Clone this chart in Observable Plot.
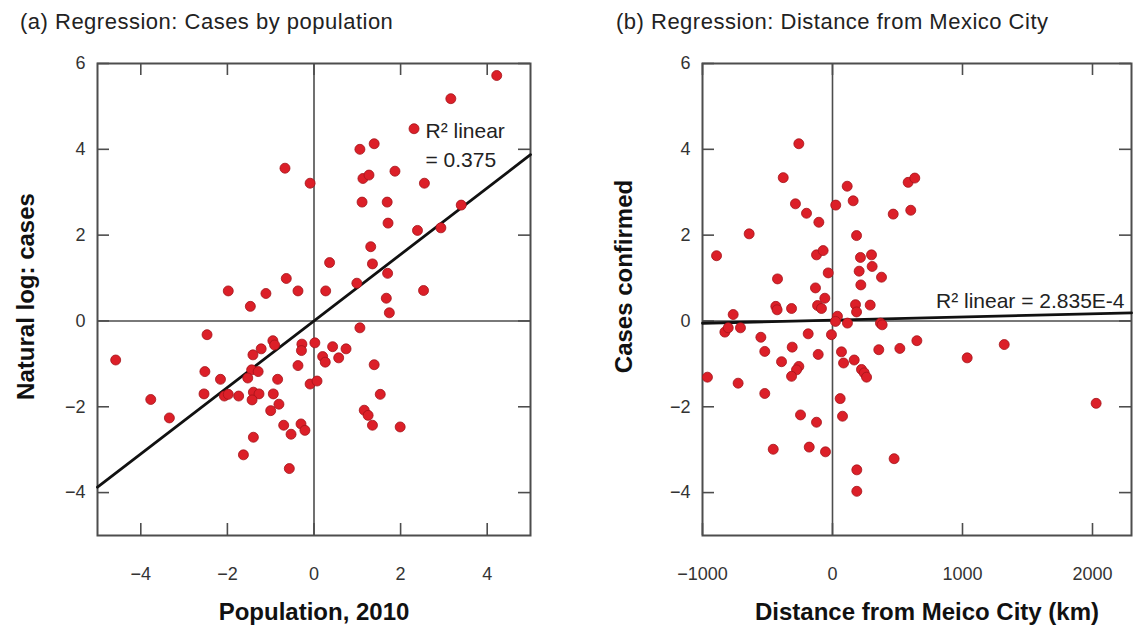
<!DOCTYPE html>
<html>
<head>
<meta charset="utf-8">
<script src="https://cdn.jsdelivr.net/npm/d3@7"></script>
<script src="https://cdn.jsdelivr.net/npm/@observablehq/plot@0.6"></script>
<style>
  html, body { margin: 0; padding: 0; background: #fff; }
  #wrap { position: relative; width: 1133px; height: 627px; overflow: hidden; background: #fff;
          font-family: "Liberation Sans", Arial, Helvetica, sans-serif; }
  .title { position: absolute; top: 11px; font-size: 22px; line-height: 22px; color: #222;
           letter-spacing: 0.5px; white-space: nowrap; }
  .panel { position: absolute; top: 40px; }
  .panel svg { overflow: visible; }
</style>
</head>
<body>
<div id="wrap">
  <div class="title" style="left:20px">(a) Regression: Cases by population</div>
  <div class="title" style="left:616px">(b) Regression: Distance from Mexico City</div>
  <div class="panel" id="pa" style="left:0px"></div>
  <div class="panel" id="pb" style="left:566px"></div>
</div>
<script>
// ---------- Panel (a): cases by population ----------
const popA = [4.22, 3.16, 2.31, 1.39, 1.06, -0.67, -0.09, 1.87, 1.13, 1.27, 2.55, 1.11, 1.69, 3.40, 1.71, 2.39, 2.93, 1.31, 0.36, 1.35,
  1.70, 0.99, -0.64, -1.98, -1.11, -0.37, 0.27, 2.53, -1.47, 1.67, 1.74, 1.06, -2.47, -0.95, -0.91, -1.22, -0.28, -0.29, 0.02, 0.43,
  0.74, -4.58, -1.41, 0.20, 0.26, 0.57, 1.39, -2.52, -2.16, -1.44, -1.29, -1.53, -0.84, -0.37, -0.09, 0.07, -3.77, -2.54, -2.07, -1.98,
  -1.74, -1.40, -1.27, -1.43, -0.94, -0.81, -1.00, 1.53, -3.34, 1.16, 1.25, 1.35, 1.99, -0.70, -0.53, -0.30, -0.21, -1.40, -1.63, -0.57];
const logCasesA = [5.72, 5.18, 4.48, 4.13, 4.00, 3.56, 3.21, 3.49, 3.32, 3.40, 3.21, 2.77, 2.77, 2.70, 2.28, 2.11, 2.17, 1.73, 1.36, 1.33,
  1.11, 0.88, 0.99, 0.70, 0.64, 0.70, 0.70, 0.71, 0.34, 0.53, 0.19, -0.16, -0.32, -0.46, -0.56, -0.65, -0.54, -0.69, -0.51, -0.60,
  -0.65, -0.91, -0.79, -0.83, -0.96, -0.86, -1.02, -1.18, -1.36, -1.14, -1.18, -1.33, -1.36, -1.04, -1.47, -1.40, -1.83, -1.70, -1.75, -1.71,
  -1.75, -1.66, -1.70, -1.84, -1.70, -1.94, -2.09, -1.71, -2.26, -2.08, -2.20, -2.43, -2.47, -2.43, -2.64, -2.40, -2.55, -2.71, -3.12, -3.44];
const fitA = { slope: 0.775, intercept: 0 };
const r2TextA = "R\u00B2 linear\n= 0.375";
const xTicksA = [-4, -2, 0, 2, 4];
const xDomainA = [-5, 5];
const xLabelA = "Population, 2010";
const yLabelA = "Natural log: cases";

// ---------- Panel (b): distance from Mexico City ----------
const distB = [-259, -379, 113, 159, 582, 633, -285, 25, 602, -200, -105, 467, -641, 185, -892, -123, -72, 215, 300, 205,
  305, -33, 377, -423, 218, -131, -59, -436, -426, -315, -115, -85, 177, 185, 290, -764, -828, -802, -708, 38,
  23, 115, 369, 382, -551, -187, -8, 649, 1321, -521, -310, -110, -392, -259, -277, -315, 69, 85, 167, 223,
  244, 262, 356, 518, 1036, -962, -726, -521, 59, 77, -246, -123, 2028, -456, -179, -54, 474, 187, 187];
const casesB = [4.13, 3.34, 3.14, 2.80, 3.23, 3.33, 2.73, 2.70, 2.58, 2.51, 2.30, 2.49, 2.03, 1.99, 1.52, 1.54, 1.64, 1.48, 1.54, 1.16,
  1.27, 1.12, 1.02, 0.98, 0.84, 0.77, 0.53, 0.34, 0.26, 0.29, 0.36, 0.29, 0.38, 0.21, 0.37, 0.15, -0.26, -0.16, -0.16, 0.11,
  -0.01, -0.05, -0.05, -0.09, -0.38, -0.30, -0.32, -0.46, -0.55, -0.71, -0.61, -0.78, -0.95, -1.06, -1.14, -1.29, -0.72, -0.98, -0.91, -1.13,
  -1.21, -1.31, -0.67, -0.64, -0.86, -1.31, -1.45, -1.69, -1.81, -2.22, -2.19, -2.36, -1.92, -2.99, -2.94, -3.05, -3.21, -3.47, -3.97];
const fitB = { slope: 0.000073, intercept: 0.02 };
const r2TextB = "R\u00B2 linear = 2.835E-4";
const xTicksB = [-1000, 0, 1000, 2000];
const xDomainB = [-1000, 2300];
const xLabelB = "Distance from Meico City (km)";
const yLabelB = "Cases confirmed";

// shared y axis
const yTicks = [-4, -2, 0, 2, 4, 6];
const yDomain = [-5, 6];

// ---------- drawing ----------
const FONT = '"Liberation Sans", Arial, Helvetica, sans-serif';
const GRAY = "#4d4d4d";
const DOT_FILL = "#dc1f28";
const DOT_STROKE = "#a3141b";
const TICK = 12;
const fmt = d3.format("d");

function panel({xs, ys, fit, r2, r2Opts, xTicks, xDomain, xLabel, yLabel, width, marginLeft, marginRight, xLabelDx, yLabelDx, yLabelDy}) {
  const height = 587, marginTop = 23, marginBottom = 92;
  const fw = width - marginLeft - marginRight;
  const fh = height - marginTop - marginBottom;
  const pts = xs.map((x, i) => ({x, y: ys[i]}));
  const line = xDomain.map(x => ({x, y: fit.intercept + fit.slope * x}));
  return Plot.plot({
    width, height, marginTop, marginBottom, marginLeft, marginRight,
    x: {domain: xDomain},
    y: {domain: yDomain},
    style: {fontFamily: FONT, fontSize: "18px", color: "#333", background: "transparent"},
    marks: [
      Plot.ruleX([0], {stroke: GRAY, strokeWidth: 1.6}),
      Plot.ruleY([0], {stroke: GRAY, strokeWidth: 1.6}),
      Plot.ruleX(xTicks, {insetTop: fh - TICK, stroke: GRAY, strokeWidth: 1.6}),
      Plot.ruleX(xTicks, {insetBottom: fh - TICK, stroke: GRAY, strokeWidth: 1.6}),
      Plot.ruleY(yTicks, {insetRight: fw - TICK, stroke: GRAY, strokeWidth: 1.6}),
      Plot.ruleY(yTicks, {insetLeft: fw - TICK, stroke: GRAY, strokeWidth: 1.6}),
      Plot.frame({stroke: GRAY, strokeWidth: 2}),
      Plot.axisX(xTicks, {tickSize: 0, tickPadding: 32, label: null, fontSize: 18, fill: "#333", tickFormat: fmt}),
      Plot.axisY(yTicks, {tickSize: 0, tickPadding: 12, label: null, fontSize: 18, fill: "#333", tickFormat: fmt}),
      Plot.line(line, {x: "x", y: "y", stroke: "#111", strokeWidth: 2.8}),
      Plot.dot(pts, {x: "x", y: "y", r: 5, fill: DOT_FILL, stroke: DOT_STROKE, strokeWidth: 0.8}),
      Plot.text([r2], {text: d => d, fontSize: 21, fill: "#222", letterSpacing: 1.4, lineHeight: 1.38, ...r2Opts}),
      Plot.text([xLabel], {text: d => d, frameAnchor: "bottom", dy: 77, dx: xLabelDx, fontSize: 24, fontWeight: "bold",
        fill: "#111", letterSpacing: 1.2, lineAnchor: "middle", textAnchor: "middle"}),
      Plot.text([yLabel], {text: d => d, frameAnchor: "left", dx: yLabelDx, dy: yLabelDy, rotate: -90, fontSize: 24,
        fontWeight: "bold", fill: "#111", letterSpacing: 0.8, lineAnchor: "middle", textAnchor: "middle"})
    ]
  });
}

document.getElementById("pa").append(panel({
  xs: popA, ys: logCasesA, fit: fitA, r2: r2TextA,
  r2Opts: {frameAnchor: "top-left", dx: 328, dy: 54, textAnchor: "start", lineAnchor: "top"},
  xTicks: xTicksA, xDomain: xDomainA, xLabel: xLabelA, yLabel: yLabelA,
  width: 560, marginLeft: 97, marginRight: 30, xLabelDx: 0, yLabelDx: -71, yLabelDy: -3
}));

document.getElementById("pb").append(panel({
  xs: distB, ys: casesB, fit: fitB, r2: r2TextB,
  r2Opts: {frameAnchor: "top-right", dx: -7, dy: 235, textAnchor: "end", lineAnchor: "middle"},
  xTicks: xTicksB, xDomain: xDomainB, xLabel: xLabelB, yLabel: yLabelB,
  width: 567, marginLeft: 136, marginRight: 2, xLabelDx: 10, yLabelDx: -78, yLabelDy: -23
}));
</script>
</body>
</html>
